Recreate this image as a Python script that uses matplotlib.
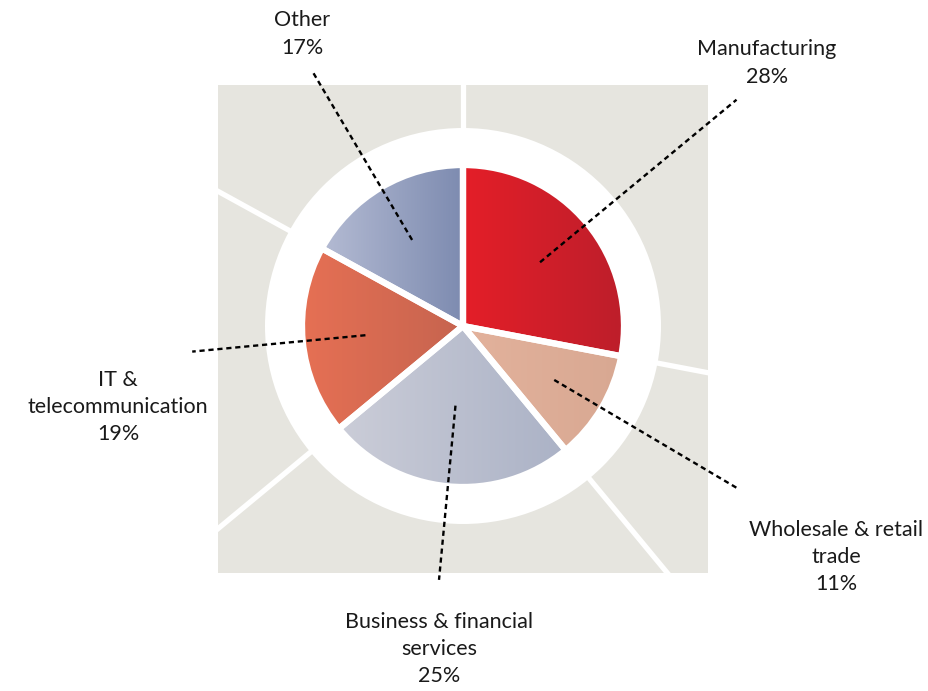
import numpy as np
import matplotlib
matplotlib.use("Agg")
import matplotlib.pyplot as plt
from matplotlib.colors import LinearSegmentedColormap
from matplotlib.patches import Rectangle, Circle

plt.rcParams['font.family'] = ['Lato', 'DejaVu Sans']

# data
sectors = ["Manufacturing", "Wholesale & retail\ntrade", "Business & financial\nservices",
           "IT &\ntelecommunication", "Other"]
shares = [28, 11, 25, 19, 17]
grad_left = ["#e41f28", "#e3b29c", "#cbcdd8", "#e67054", "#b4bbd3"]
grad_right = ["#bd1e2b", "#d8a892", "#abb2c6", "#c6644f", "#7d8bb0"]

# label placement (pixel coords, top-left origin) and leader lengths
label_xy = [(767, 63), (836, 557), (439, 649), (118, 407), (302, 34)]
leader_r = [(100, 355), (106, 320), (80, 255), (98, 272), (100, 297)]

W, H = 929, 691
cx, cy = 463, H - 326
r_pie = 161
r_ring = 198

fig = plt.figure(figsize=(W / 100, H / 100), dpi=100)
ax = fig.add_axes([0, 0, 1, 1])

# grey square
sq = Rectangle((218, H - 573), 490, 488, facecolor="#e6e5df", edgecolor="none", zorder=0)
ax.add_patch(sq)

# wedge boundaries (clockwise from top)
bounds = 90 - 3.6 * np.concatenate([[0], np.cumsum(shares)])
for a in bounds[:-1]:
    t = np.deg2rad(a)
    ln, = ax.plot([cx, cx + 600 * np.cos(t)], [cy, cy + 600 * np.sin(t)],
                  color="white", lw=3.8, solid_capstyle="butt", zorder=1)
    ln.set_clip_path(sq)

ax.add_patch(Circle((cx, cy), r_ring, facecolor="white", edgecolor="none", zorder=2))

wedges, _ = ax.pie(shares, startangle=90, counterclock=False, center=(cx, cy),
                   radius=r_pie, colors=["none"] * 5, frame=True,
                   wedgeprops=dict(edgecolor="white", linewidth=4.5, zorder=4))

for i, w in enumerate(wedges):
    th = np.deg2rad(np.linspace(w.theta1, w.theta2, 100))
    xs = np.concatenate([[cx], cx + r_pie * np.cos(th)])
    ys = np.concatenate([[cy], cy + r_pie * np.sin(th)])
    cmap = LinearSegmentedColormap.from_list("g%d" % i, [grad_left[i], grad_right[i]])
    im = ax.imshow(np.linspace(0, 1, 256)[None, :], cmap=cmap, aspect="auto",
                   extent=[xs.min(), xs.max(), ys.min(), ys.max()],
                   interpolation="bilinear", zorder=3)
    im.set_clip_path(w)

ax.set_xlim(0, W)
ax.set_ylim(0, H)
ax.set_aspect("auto")
ax.axis("off")

# leaders and labels
for i, w in enumerate(wedges):
    mid = np.deg2rad((w.theta1 + w.theta2) / 2)
    r0, r1 = leader_r[i]
    ax.plot([cx + r0 * np.cos(mid), cx + r1 * np.cos(mid)],
            [cy + r0 * np.sin(mid), cy + r1 * np.sin(mid)],
            color="black", lw=1.7, dashes=(2.2, 1.6), zorder=5)
    lx, ly = label_xy[i]
    ax.text(lx, H - ly, "%s\n%d%%" % (sectors[i], shares[i]), ha="center", va="center",
            fontsize=15.5, color="#1a1a1a", linespacing=1.45, zorder=6)

fig.savefig("out.png", dpi=100)
